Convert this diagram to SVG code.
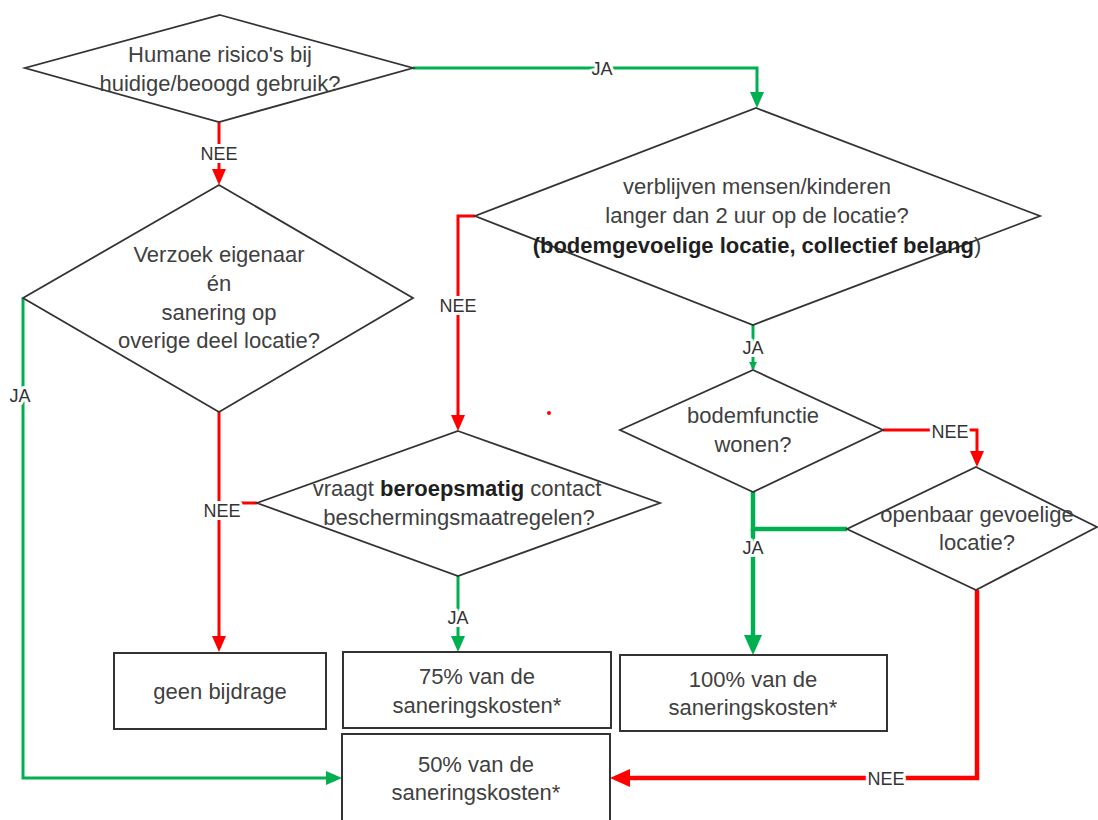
<svg xmlns="http://www.w3.org/2000/svg" width="1098" height="820" viewBox="0 0 1098 820">
  <style>
    .shape { fill: #ffffff; stroke: #333333; stroke-width: 1.8; }
    .box { fill: #ffffff; stroke: #333333; stroke-width: 2; }
    .t { font-family: "Liberation Sans", Arial, sans-serif; font-size: 22px; fill: #404040; text-anchor: middle; }
    .b { font-weight: bold; fill: #1f1f1f; }
    .lbl { font-family: "Liberation Sans", Arial, sans-serif; font-size: 18px; fill: #333333; text-anchor: middle; stroke: #ffffff; stroke-width: 6; paint-order: stroke; stroke-linejoin: round; }
    .g { fill: none; stroke: #00B050; stroke-width: 3; }
    .r { fill: none; stroke: #FF0000; stroke-width: 3; }
    .gk { fill: none; stroke: #00B050; stroke-width: 4.5; }
    .rk { fill: none; stroke: #FF0000; stroke-width: 4.5; }
  </style>
  <defs>
    <marker id="aG" viewBox="0 0 16 14" markerWidth="16" markerHeight="14" refX="12" refY="7" orient="auto" markerUnits="userSpaceOnUse">
      <path d="M0,0 L16,7 L0,14 z" fill="#00B050"/>
    </marker>
    <marker id="aR" viewBox="0 0 16 14" markerWidth="16" markerHeight="14" refX="12" refY="7" orient="auto" markerUnits="userSpaceOnUse">
      <path d="M0,0 L16,7 L0,14 z" fill="#FF0000"/>
    </marker>
    <marker id="aGk" viewBox="0 0 20 18" markerWidth="20" markerHeight="18" refX="15" refY="9" orient="auto" markerUnits="userSpaceOnUse">
      <path d="M0,0 L20,9 L0,18 z" fill="#00B050"/>
    </marker>
    <marker id="aRk" viewBox="0 0 20 18" markerWidth="20" markerHeight="18" refX="15" refY="9" orient="auto" markerUnits="userSpaceOnUse">
      <path d="M0,0 L20,9 L0,18 z" fill="#FF0000"/>
    </marker>
    <marker id="aGs" viewBox="0 0 8 8" markerWidth="8" markerHeight="8" refX="7" refY="4" orient="auto" markerUnits="userSpaceOnUse">
      <path d="M0,0 L8,4 L0,8 z" fill="#00B050"/>
    </marker>
  </defs>

  <rect x="0" y="0" width="1098" height="820" fill="#ffffff"/>

  <g id="connectors">
    <path class="g" d="M413,68 H757 V104" marker-end="url(#aG)"/>
    <path class="r" d="M219,122 V181" marker-end="url(#aR)"/>
    <path class="g" d="M23,298 V778 H338" marker-end="url(#aG)"/>
    <path class="r" d="M219,412 V648" marker-end="url(#aR)"/>
    <path class="r" d="M240,503 H257"/>
    <path class="r" d="M475,216 H458 V427" marker-end="url(#aR)"/>
    <path class="g" d="M458,576 V648" marker-end="url(#aG)"/>
    <path class="g" d="M753,325 V369" marker-end="url(#aGs)"/>
    <path class="r" d="M883,430 H977 V463" marker-end="url(#aR)"/>
    <path class="gk" d="M753,492 V529 H847"/>
    <path class="gk" d="M753,529 V650" marker-end="url(#aGk)"/>
    <path class="rk" d="M977,590 V778 H615" marker-end="url(#aRk)"/>
    <circle cx="549" cy="413" r="2" fill="#FF0000"/>
    <text class="lbl" x="602" y="75">JA</text>
    <text class="lbl" x="219" y="160">NEE</text>
    <text class="lbl" x="20" y="402">JA</text>
    <text class="lbl" x="222" y="517">NEE</text>
    <text class="lbl" x="458" y="312">NEE</text>
    <text class="lbl" x="458" y="624">JA</text>
    <text class="lbl" x="753" y="354">JA</text>
    <text class="lbl" x="950" y="438">NEE</text>
    <text class="lbl" x="753" y="554">JA</text>
    <text class="lbl" x="886" y="785">NEE</text>
  </g>

  <g id="q1">
    <polygon class="shape" points="220,15 413,68 219,122 25,68"/>
    <text class="t" x="220" y="62">Humane risico's bij</text>
    <text class="t" x="220" y="91">huidige/beoogd gebruik?</text>
  </g>

  <g id="q2">
    <polygon class="shape" points="219,185 413,298 219,412 23,298"/>
    <text class="t" x="219" y="262">Verzoek eigenaar</text>
    <text class="t" x="219" y="291">én</text>
    <text class="t" x="219" y="320">sanering op</text>
    <text class="t" x="219" y="348">overige deel locatie?</text>
  </g>

  <g id="q3">
    <polygon class="shape" points="756,108 1040,216 753,325 475,216"/>
    <text class="t" x="757" y="194">verblijven mensen/kinderen</text>
    <text class="t" x="757" y="223">langer dan 2 uur op de locatie?</text>
    <text class="t" x="757" y="253"><tspan class="b">(bodemgevoelige locatie, collectief belang</tspan>)</text>
  </g>

  <g id="q4">
    <polygon class="shape" points="458,431 660,503 458,576 257,503"/>
    <text class="t" x="457" y="496">vraagt <tspan class="b">beroepsmatig</tspan> contact</text>
    <text class="t" x="459" y="525">beschermingsmaatregelen?</text>
  </g>

  <g id="q5">
    <polygon class="shape" points="753,370 883,430 753,492 620,430"/>
    <text class="t" x="753" y="423">bodemfunctie</text>
    <text class="t" x="753" y="452">wonen?</text>
  </g>

  <g id="q6">
    <polygon class="shape" points="976,467 1097,527 976,590 847,529"/>
    <text class="t" x="977" y="522">openbaar gevoelige</text>
    <text class="t" x="977" y="550">locatie?</text>
  </g>

  <g id="r0">
    <rect class="box" x="114" y="653" width="212" height="76"/>
    <text class="t" x="220" y="699">geen bijdrage</text>
  </g>

  <g id="r75">
    <rect class="box" x="343" y="652" width="268" height="76"/>
    <text class="t" x="477" y="684">75% van de</text>
    <text class="t" x="477" y="713">saneringskosten*</text>
  </g>

  <g id="r100">
    <rect class="box" x="620" y="655" width="267" height="76"/>
    <text class="t" x="753" y="687">100% van de</text>
    <text class="t" x="753" y="715">saneringskosten*</text>
  </g>

  <g id="r50">
    <rect class="box" x="342" y="734" width="268" height="100"/>
    <text class="t" x="476" y="772">50% van de</text>
    <text class="t" x="476" y="800">saneringskosten*</text>
  </g>
</svg>
